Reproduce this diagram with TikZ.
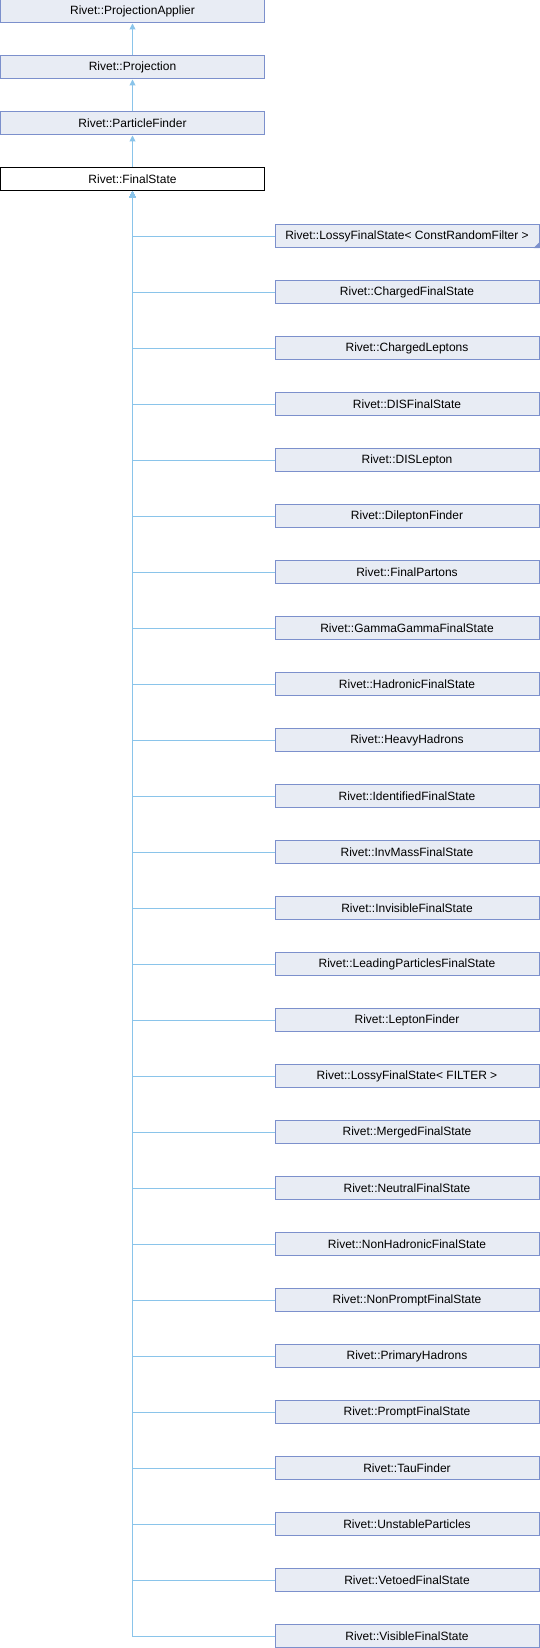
\documentclass[tikz,border=0pt]{standalone}
\usepackage{fontspec}
\setmainfont{Liberation Sans}
\usetikzlibrary{arrows.meta}
\definecolor{boxfill}{RGB}{232,236,244}
\definecolor{boxline}{RGB}{124,144,204}
\definecolor{edgecol}{RGB}{138,196,234}
\tikzset{
  cls/.style    ={rectangle, draw=boxline, fill=boxfill, line width=1pt,
                  minimum width=264pt, minimum height=23pt, inner sep=2pt,
                  font=\fontsize{12}{14}\selectfont},
  cur/.style    ={cls, draw=black, fill=white},
  inh/.style    ={{Triangle[length=6pt,width=6pt]}-, draw=edgecol, line width=1pt}
}
\begin{document}
\begin{tikzpicture}[x=1pt,y=-1pt]
\useasboundingbox (0,0) rectangle (540,1648);

%% ---- Base classes --------------------------------------------------
\node[cls] (applier) at (132.5,11.5)  {Rivet::ProjectionApplier};
\node[cls] (proj)    at (132.5,67.5)  {Rivet::Projection};
\node[cls] (pfinder) at (132.5,123.5) {Rivet::ParticleFinder};
\node[cur] (fstate)  at (132.5,179.5) {Rivet::FinalState};

\draw[inh] (applier.south) -- (proj.north);
\draw[inh] (proj.south) -- (pfinder.north);
\draw[inh] (pfinder.south) -- (fstate.north);

%% ---- Derived classes -----------------------------------------------
\node[cls] (lossyrnd)  at (407,236)  {Rivet::LossyFinalState< ConstRandomFilter >};
\node[cls] (chfs)      at (407,292)  {Rivet::ChargedFinalState};
\node[cls] (chlep)     at (407,348)  {Rivet::ChargedLeptons};
\node[cls] (disfs)     at (407,404)  {Rivet::DISFinalState};
\node[cls] (dislep)    at (407,460)  {Rivet::DISLepton};
\node[cls] (dilep)     at (407,516)  {Rivet::DileptonFinder};
\node[cls] (fpart)     at (407,572)  {Rivet::FinalPartons};
\node[cls] (ggfs)      at (407,628)  {Rivet::GammaGammaFinalState};
\node[cls] (hadfs)     at (407,684)  {Rivet::HadronicFinalState};
\node[cls] (heavy)     at (407,740)  {Rivet::HeavyHadrons};
\node[cls] (idfs)      at (407,796)  {Rivet::IdentifiedFinalState};
\node[cls] (invmass)   at (407,852)  {Rivet::InvMassFinalState};
\node[cls] (invis)     at (407,908)  {Rivet::InvisibleFinalState};
\node[cls] (leadp)     at (407,964)  {Rivet::LeadingParticlesFinalState};
\node[cls] (lepf)      at (407,1020) {Rivet::LeptonFinder};
\node[cls] (lossyflt)  at (407,1076) {Rivet::LossyFinalState< FILTER >};
\node[cls] (merged)    at (407,1132) {Rivet::MergedFinalState};
\node[cls] (neutral)   at (407,1188) {Rivet::NeutralFinalState};
\node[cls] (nonhad)    at (407,1244) {Rivet::NonHadronicFinalState};
\node[cls] (nonprompt) at (407,1300) {Rivet::NonPromptFinalState};
\node[cls] (primhad)   at (407,1356) {Rivet::PrimaryHadrons};
\node[cls] (prompt)    at (407,1412) {Rivet::PromptFinalState};
\node[cls] (tauf)      at (407,1468) {Rivet::TauFinder};
\node[cls] (unstable)  at (407,1524) {Rivet::UnstableParticles};
\node[cls] (vetoed)    at (407,1580) {Rivet::VetoedFinalState};
\node[cls] (visible)   at (407,1636) {Rivet::VisibleFinalState};

% template marker
\fill[boxline] ([xshift=-6pt]lossyrnd.south east) -- (lossyrnd.south east)
      -- ([yshift=6pt]lossyrnd.south east) -- cycle;

%% ---- Wiring --------------------------------------------------------
\foreach \kid in {lossyrnd,chfs,chlep,disfs,dislep,dilep,fpart,ggfs,hadfs,
    heavy,idfs,invmass,invis,leadp,lepf,lossyflt,merged,neutral,nonhad,
    nonprompt,primhad,prompt,tauf,unstable,vetoed,visible}
  \draw[inh] (fstate.south) |- (\kid.west);
\end{tikzpicture}
\end{document}
